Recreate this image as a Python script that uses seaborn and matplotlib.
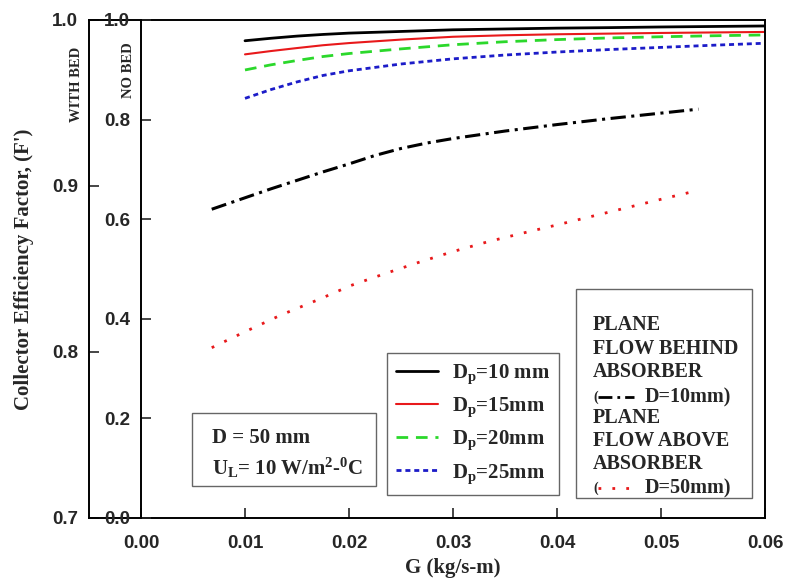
import numpy as np
import pandas as pd
import matplotlib
matplotlib.use("Agg")
import matplotlib.pyplot as plt
import seaborn as sns
from matplotlib.lines import Line2D
from matplotlib.patches import Rectangle
from matplotlib.ticker import FormatStrFormatter

# packed bed collector (read on the WITH BED axis)
g_bed = [0.010, 0.0125, 0.015, 0.0175, 0.020, 0.025, 0.030, 0.035, 0.040, 0.045, 0.050, 0.055, 0.060]
f_dp10 = [0.9875, 0.9890, 0.9903, 0.9913, 0.9921, 0.9931, 0.9941, 0.9946, 0.9951, 0.9954, 0.9958, 0.9961, 0.9964]
f_dp15 = [0.9793, 0.9813, 0.9831, 0.9848, 0.9861, 0.9882, 0.9899, 0.9908, 0.9914, 0.9918, 0.9922, 0.9925, 0.9928]
f_dp20 = [0.9699, 0.9730, 0.9756, 0.9780, 0.9798, 0.9826, 0.9851, 0.9869, 0.9882, 0.9892, 0.9899, 0.9905, 0.9910]
f_dp25 = [0.9528, 0.9581, 0.9627, 0.9666, 0.9694, 0.9735, 0.9766, 0.9789, 0.9807, 0.9822, 0.9835, 0.9848, 0.9860]

# plane collectors (read on the NO BED axis)
g_plane10 = [0.0068, 0.010, 0.0125, 0.015, 0.0175, 0.020, 0.0225, 0.025, 0.0275, 0.030,
             0.035, 0.040, 0.045, 0.050, 0.0536]
f_plane10 = [0.620, 0.643, 0.661, 0.678, 0.695, 0.711, 0.728, 0.742, 0.753, 0.762,
             0.777, 0.790, 0.802, 0.813, 0.821]
g_plane50 = [0.0068, 0.010, 0.0135, 0.0170, 0.0202, 0.0235, 0.0268, 0.030, 0.0334,
             0.0367, 0.0401, 0.0434, 0.0467, 0.050, 0.0534]
f_plane50 = [0.342, 0.374, 0.408, 0.438, 0.467, 0.491, 0.514, 0.535, 0.555,
             0.572, 0.589, 0.606, 0.623, 0.640, 0.657]

x_ticks = [0.00, 0.01, 0.02, 0.03, 0.04, 0.05, 0.06]
bed_ticks = [0.7, 0.8, 0.9, 1.0]
nobed_ticks = [0.0, 0.2, 0.4, 0.6, 0.8, 1.0]

sns.set_style("white")
plt.rcParams["font.family"] = ["Liberation Serif", "DejaVu Serif"]
plt.rcParams["font.weight"] = "bold"
plt.rcParams["axes.labelweight"] = "bold"
plt.rcParams["mathtext.fontset"] = "custom"
plt.rcParams["mathtext.rm"] = "Liberation Serif:bold"
plt.rcParams["mathtext.bf"] = "Liberation Serif:bold"
plt.rcParams["mathtext.default"] = "bf"

W, H = 792, 585
fig = plt.figure(figsize=(W / 100, H / 100), dpi=100)
ax = fig.add_axes([89 / W, 1 - 518 / H, (765 - 89) / W, (518 - 20) / H])
ax2 = ax.twinx()

red = "#e8191b"
green = "#2bd82b"
blue = "#1c1cc8"

sns.lineplot(x=g_bed, y=f_dp10, ax=ax, color="black", lw=2.0, label="D$_{p}$=10 mm")
sns.lineplot(x=g_bed, y=f_dp15, ax=ax, color=red, lw=1.5, label="D$_{p}$=15mm")
sns.lineplot(x=g_bed, y=f_dp20, ax=ax, color=green, lw=2.0, ls=(0, (4.2, 2.8)), label="D$_{p}$=20mm")
sns.lineplot(x=g_bed, y=f_dp25, ax=ax, color=blue, lw=2.0, ls=(0, (1.8, 1.4)), label="D$_{p}$=25mm")

sns.lineplot(x=g_plane10, y=f_plane10, ax=ax2, color="black", lw=2.2, ls=(0, (5, 1.8, 1, 1.8)))
sns.lineplot(x=g_plane50, y=f_plane50, ax=ax2, color=red, lw=2.0, ls=(0, (1, 4)))

handles, labels = ax.get_legend_handles_labels()
if ax.get_legend() is not None:
    ax.get_legend().remove()
if ax2.get_legend() is not None:
    ax2.get_legend().remove()

ax.set_xlim(-0.005, 0.06)
ax.set_ylim(0.7, 1.0)
ax2.set_ylim(0.0, 1.0)
ax.set_xticks(x_ticks)
ax.set_yticks(bed_ticks)
ax2.set_yticks(nobed_ticks)
ax.xaxis.set_major_formatter(FormatStrFormatter("%.2f"))
ax.yaxis.set_major_formatter(FormatStrFormatter("%.1f"))
ax2.yaxis.set_major_formatter(FormatStrFormatter("%.1f"))

for s in ax.spines.values():
    s.set_linewidth(1.4)
    s.set_color("black")
for name in ["top", "right", "bottom"]:
    ax2.spines[name].set_visible(False)
ax2.spines["left"].set_visible(True)
ax2.spines["left"].set_position(("data", 0.0))
ax2.spines["left"].set_linewidth(1.4)
ax2.spines["left"].set_color("black")
ax2.yaxis.set_ticks_position("left")

ax.tick_params(axis="x", direction="in", length=7, width=1.2, pad=12, labelsize=13.5,
               labelfontfamily="Liberation Sans", bottom=True, top=False)
ax.tick_params(axis="y", direction="in", length=7, width=1.2, pad=8, labelsize=13.5,
               labelfontfamily="Liberation Sans", left=True, right=False)
ax2.tick_params(axis="y", direction="in", length=7, width=1.2, pad=8, labelsize=13.5,
                labelfontfamily="Liberation Sans", left=True, right=False)

ax.set_ylabel("Collector Efficiency Factor, (F')", fontsize=15, fontweight="bold")
ax.yaxis.set_label_coords((34 - 89) / 676, 0.5)
ax.set_xlabel("G (kg/s-m)", fontsize=15, fontweight="bold")
ax.xaxis.set_label_coords((453 - 89) / 676, (518 - 558) / 498)

fig.text(77 / W, 1 - 84 / H, "WITH BED", rotation=90, fontsize=10.5, ha="center", va="center")
fig.text(128 / W, 1 - 70 / H, "NO BED", rotation=90, fontsize=10.5, ha="center", va="center")

# D_p legend
ax2.legend(handles, labels, loc="upper left", bbox_to_anchor=(387 / W, 1 - 353 / H),
           bbox_transform=fig.transFigure, borderaxespad=0, fontsize=15,
           frameon=True, fancybox=False, edgecolor="#666666", framealpha=1,
           handlelength=2.0, handletextpad=0.65, labelspacing=0.47, borderpad=0.45)

# parameter box
fig.add_artist(Rectangle((192 / W, 1 - 486 / H), (376 - 192) / W, (486 - 413) / H,
                         transform=fig.transFigure, facecolor="white", edgecolor="#666666", lw=1.0))
fig.text(212 / W, 1 - 438 / H, "D = 50 mm", fontsize=15, va="center")
fig.text(212 / W, 1 - 468 / H, "U$_{L}$= 10 W/m$^{2}$-$^{0}$C", fontsize=15, va="center")

# plane collector legend
fig.add_artist(Rectangle((576 / W, 1 - 498 / H), (752 - 576) / W, (498 - 289) / H,
                         transform=fig.transFigure, facecolor="white", edgecolor="#666666", lw=1.0))
plane_lines = [("PLANE", 325), ("FLOW BEHIND", 349), ("ABSORBER", 372),
               ("PLANE", 418), ("FLOW ABOVE", 441), ("ABSORBER", 464)]
for txt, yy in plane_lines:
    fig.text(593 / W, 1 - yy / H, txt, fontsize=14.5, va="center")
for yy, style, col, lab in [(397, (0, (5, 1.8, 1, 1.8)), "black", "D=10mm)"),
                            (488, (0, (1, 4)), red, "D=50mm)")]:
    fig.text(593 / W, 1 - yy / H, "(", fontsize=10, va="center")
    fig.add_artist(Line2D([598 / W, 634 / W], [1 - yy / H, 1 - yy / H], transform=fig.transFigure,
                          color=col, lw=2.0, ls=style))
    fig.text(645 / W, 1 - yy / H, lab, fontsize=14.5, va="center")

fig.savefig("out.png", dpi=100)
